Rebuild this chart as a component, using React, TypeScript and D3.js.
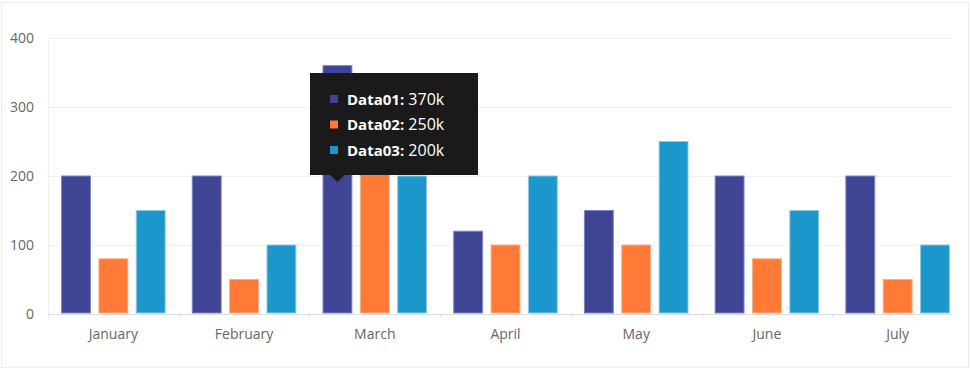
import React, { useEffect, useRef } from 'react';
import * as d3 from 'd3';

const months = ['January', 'February', 'March', 'April', 'May', 'June', 'July'];
const seriesNames = ['Data01', 'Data02', 'Data03'];
const data01 = [200, 200, 360, 120, 150, 200, 200];
const data02 = [80, 50, 250, 100, 100, 80, 50];
const data03 = [150, 100, 200, 200, 250, 150, 100];
const yTicks = [0, 100, 200, 300, 400];
const tooltipMonth = 'March';
const tooltipValues = ['370k', '250k', '200k'];
const colors = ['#3f4494', '#fe7a36', '#1b97cb'];
const strokes = ['#7a86c8', '#f2b08c', '#8ccbe2'];

const App = () => {
  const ref = useRef<SVGSVGElement>(null);

  useEffect(() => {
    const svg = d3.select(ref.current);
    svg.selectAll('*').remove();

    const left = 48;
    const right = 963;
    const gridRight = 952;
    const top = 37.5;
    const bottom = 313.5;
    const font = '"Open Sans", sans-serif';

    // outer frame
    svg.append('rect')
      .attr('x', 1.5).attr('y', 2.5)
      .attr('width', 967).attr('height', 365)
      .attr('fill', '#fff')
      .attr('stroke', '#ececec');

    const y = d3.scaleLinear().domain([0, 400]).range([bottom, top]);
    const x0 = d3.scaleBand().domain(months).range([left, right]).paddingInner(0.2).paddingOuter(0.1);
    const x1 = d3.scaleBand().domain(seriesNames).range([0, x0.bandwidth()]).paddingInner(0.2);

    // grid
    svg.append('g').selectAll('line')
      .data(yTicks)
      .enter().append('line')
      .attr('x1', left).attr('x2', gridRight)
      .attr('y1', d => Math.round(y(d)) + 0.5).attr('y2', d => Math.round(y(d)) + 0.5)
      .attr('stroke', d => d === 0 ? '#dcdcdc' : '#f0f0f0');

    svg.append('line')
      .attr('x1', left + 0.5).attr('x2', left + 0.5)
      .attr('y1', top).attr('y2', bottom)
      .attr('stroke', '#f0f0f0');

    // x ticks at band boundaries
    const xTickPos = months.map(m => (x0(m) as number) - x0.step() * 0.1);
    svg.append('g').selectAll('line')
      .data(xTickPos)
      .enter().append('line')
      .attr('x1', d => Math.round(d) + 0.5).attr('x2', d => Math.round(d) + 0.5)
      .attr('y1', bottom).attr('y2', bottom + 5)
      .attr('stroke', '#e4e4e4');

    // y labels
    svg.append('g').selectAll('text')
      .data(yTicks)
      .enter().append('text')
      .attr('x', 34)
      .attr('y', d => y(d) + 5)
      .attr('text-anchor', 'end')
      .attr('font-family', font)
      .attr('font-size', 14)
      .attr('fill', '#666')
      .text(d => d);

    // x labels
    svg.append('g').selectAll('text')
      .data(months)
      .enter().append('text')
      .attr('x', d => (x0(d) as number) + x0.bandwidth() / 2)
      .attr('y', 339)
      .attr('text-anchor', 'middle')
      .attr('font-family', font)
      .attr('font-size', 14)
      .attr('fill', '#666')
      .text(d => d);

    // bars
    const series = [data01, data02, data03];
    const groups = svg.append('g').selectAll('g')
      .data(months)
      .enter().append('g')
      .attr('transform', d => 'translate(' + x0(d) + ',0)');

    groups.selectAll('rect')
      .data((m, i) => series.map((s, k) => ({ k, v: s[i] })))
      .enter().append('rect')
      .attr('x', d => (x1(seriesNames[d.k]) as number) + 0.5)
      .attr('y', d => y(d.v) + 0.5)
      .attr('width', x1.bandwidth() - 1)
      .attr('height', d => bottom - y(d.v) - 1)
      .attr('fill', d => colors[d.k])
      .attr('stroke', d => strokes[d.k])
      .attr('stroke-width', 1);

    // tooltip
    const tx = 310;
    const ty = 73;
    const tw = 168;
    const th = 102;
    const arrowX = (x0(tooltipMonth) as number) + (x1(seriesNames[0]) as number) + x1.bandwidth() / 2;
    const tip = svg.append('g');
    tip.append('rect')
      .attr('x', tx).attr('y', ty)
      .attr('width', tw).attr('height', th)
      .attr('fill', '#1a1a1a');
    tip.append('path')
      .attr('d', d3.line()([[arrowX - 7, ty + th], [arrowX + 7, ty + th], [arrowX, ty + th + 7]]) + 'Z')
      .attr('fill', '#1a1a1a');

    seriesNames.forEach((name, i) => {
      const rowY = 99 + i * 25.5;
      tip.append('rect')
        .attr('x', 330).attr('y', rowY - 4)
        .attr('width', 8).attr('height', 8)
        .attr('fill', colors[i]);
      const t = tip.append('text')
        .attr('x', 347)
        .attr('y', rowY + 5.5)
        .attr('font-family', font)
        .attr('font-size', 15)
        .attr('fill', '#fff');
      t.append('tspan').attr('font-weight', 'bold').text(name + ':');
      t.append('tspan').attr('font-size', 16).text(' ' + tooltipValues[i]);
    });
  }, []);

  return (
    <div>
      <style>{'body{margin:0}'}</style>
      <svg ref={ref} width={970} height={370} style={{ display: 'block' }} />
    </div>
  );
};

export default App;
